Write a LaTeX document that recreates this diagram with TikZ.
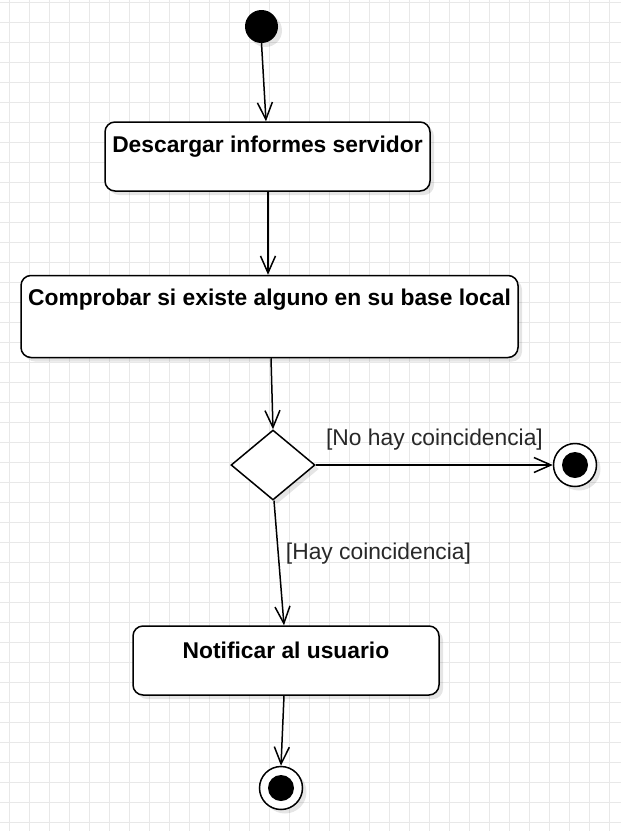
\documentclass[tikz,border=0pt]{standalone}
\usepackage{fontspec}
\setmainfont{Liberation Sans}
\usetikzlibrary{arrows.meta,shapes.geometric,shadows}
\definecolor{gridc}{RGB}{232,232,232}
\definecolor{lblc}{RGB}{40,40,40}
\tikzset{
  shd/.style={drop shadow={shadow xshift=4pt,shadow yshift=-4pt,fill=black,opacity=0.10}},
  actbox/.style={draw,line width=1.5pt,rounded corners=10pt,fill=white,inner sep=0pt,shd},
  boxtext/.style={font=\bfseries\fontsize{22.8}{27}\selectfont,inner sep=0pt},
  lbl/.style={font=\fontsize{22.8}{27}\selectfont,text=lblc,inner sep=0pt},
  flow/.style={line width=1.5pt,-{Straight Barb[length=17pt,width=15pt,line width=1.5pt]}},
  decision/.style={diamond,draw,line width=1.5pt,fill=white,inner sep=0pt,shd},
  startnode/.style={circle,fill=black,inner sep=0pt,minimum size=33pt,shd},
  endouter/.style={circle,draw,line width=1.5pt,fill=white,inner sep=0pt,minimum size=43pt,shd},
  endinner/.style={circle,fill=black,inner sep=0pt,minimum size=26pt}
}
\begin{document}
\begin{tikzpicture}[x=1pt,y=-1pt]
\useasboundingbox (0,0) rectangle (621,831);
\fill[white] (0,0) rectangle (621,831);
\foreach \gx in {9.5,29.5,...,620} \draw[gridc,line width=1pt] (\gx,0) -- (\gx,831);
\foreach \gy in {2.5,22.5,...,830} \draw[gridc,line width=1pt] (0,\gy) -- (621,\gy);

\node[startnode] (start) at (261.5,26.5) {};
\node[actbox,minimum width=325pt,minimum height=69pt] (b1) at (267.5,156.5) {};
\node[boxtext] (b1t) at ([yshift=-25pt]b1.north) {Descargar informes servidor};
\node[actbox,minimum width=497pt,minimum height=82pt] (b2) at (269.5,316.5) {};
\node[boxtext] (b2t) at ([yshift=-25pt]b2.north) {Comprobar si existe alguno en su base local};
\node[decision,minimum width=84pt,minimum height=70pt] (dec) at (273,465) {};
\node[endouter] (end1) at (575,465) {};
\node[endinner] (end1in) at (end1) {};
\node[actbox,minimum width=306pt,minimum height=69pt] (b3) at (286,660.5) {};
\node[boxtext] (b3t) at ([yshift=-25pt]b3.north) {Notificar al usuario};
\node[endouter] (end2) at (281,788) {};
\node[endinner] (end2in) at (end2) {};

\node[lbl] (l1) at (434.5,440) {[No hay coincidencia]};
\node[lbl] (l2) at (378.5,554) {[Hay coincidencia]};

\draw[flow] (start.south) -- ([xshift=-1.5pt]b1.north);
\draw[flow] ([xshift=0.5pt]b1.south) -- ([xshift=-1.5pt]b2.north);
\draw[flow] ([xshift=1.5pt]b2.south) -- (dec.north);
\draw[flow] (dec.east) -- (end1.west);
\draw[flow] ([xshift=1pt]dec.south) -- ([xshift=-2pt]b3.north);
\draw[flow] ([xshift=-2pt]b3.south) -- (end2.north);
\end{tikzpicture}
\end{document}
